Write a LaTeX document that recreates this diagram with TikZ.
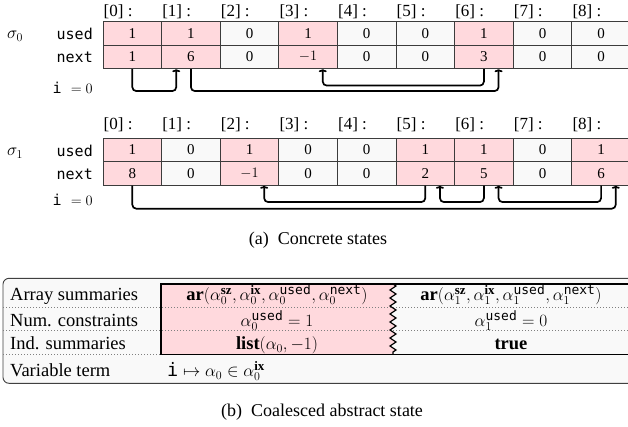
\documentclass[tikz,border=0pt]{standalone}
\usepackage{fontspec}
\setmainfont{Liberation Serif}
\setmonofont{DejaVu Sans Mono}
\usetikzlibrary{arrows.meta,decorations.pathmorphing}
\definecolor{pinkc}{RGB}{255,217,221}
\definecolor{whitec}{RGB}{249,249,249}
\definecolor{gridc}{RGB}{60,60,60}
\tikzset{
  cell/.style={draw=gridc, line width=0.8pt, minimum width=58.6pt, minimum height=23.5pt, inner sep=0pt, font=\fontsize{15}{15}\selectfont},
  hdr/.style={anchor=west, inner sep=0pt, font=\fontsize{17}{17}\selectfont},
  rowlab/.style={anchor=east, inner sep=0pt, font=\ttfamily\fontsize{15}{15}\selectfont},
  sig/.style={inner sep=0pt, font=\fontsize{17}{17}\selectfont},
  link/.style={line width=1.7pt, rounded corners=4pt, -{To[length=3pt,width=8pt]}},
  lab/.style={anchor=base west, inner sep=0pt, font=\fontsize{18.5}{18.5}\selectfont},
  val/.style={anchor=base, inner sep=0pt, font=\fontsize{18.5}{18.5}\selectfont},
  captext/.style={inner sep=0pt, font=\fontsize{18}{18}\selectfont},
  dotline/.style={draw=gray, line width=0.8pt, dash pattern=on 0.8pt off 2.2pt},
  boxline/.style={line width=1.5pt},
  wave/.style={decorate, decoration={zigzag, segment length=8pt, amplitude=3pt}},
}
\begin{document}
\begin{tikzpicture}[x=1pt,y=-1pt]
\useasboundingbox (0,0) rectangle (628,427);
% ---------- sigma 0 ----------
\foreach \i/\u/\n/\f in {0/1/1/pinkc,1/1/6/pinkc,2/0/0/whitec,3/1/{$-1$}/pinkc,4/0/0/whitec,5/0/0/whitec,6/1/3/pinkc,7/0/0/whitec,8/0/0/whitec}{
  \node[cell, fill=\f] (s0u\i) at ({132.3+58.6*\i},33.45) {\u};
  \node[cell, fill=\f] (s0n\i) at ({132.3+58.6*\i},56.95) {\n};
  \node[hdr] (s0h\i) at ({103.5+58.6*\i},12) {[\i] :};
}
\node[sig] (sig0) at (15,36) {$\sigma_0$};
\node[rowlab] (s0lu) at (93,34) {used};
\node[rowlab] (s0ln) at (93,57.5) {next};
\node[rowlab] (s0li) at (93,88) {\texttt{i} $=0$};
\draw[link] (s0n0.south) -- ++(0,22) -| ([xshift=-14.65pt]s0n1.south);
\draw[link] (s0n1.south) -- ++(0,22) -| ([xshift=14.65pt]s0n6.south);
\draw[link] (s0n6.south) -- ++(0,16.5) -| ([xshift=14.65pt]s0n3.south);
% ---------- sigma 1 ----------
\foreach \i/\u/\n/\f in {0/1/8/pinkc,1/0/0/whitec,2/1/{$-1$}/pinkc,3/0/0/whitec,4/0/0/whitec,5/1/2/pinkc,6/1/5/pinkc,7/0/0/whitec,8/1/6/pinkc}{
  \node[cell, fill=\f] (s1u\i) at ({132.3+58.6*\i},150.05) {\u};
  \node[cell, fill=\f] (s1n\i) at ({132.3+58.6*\i},173.55) {\n};
  \node[hdr] (s1h\i) at ({103.5+58.6*\i},125) {[\i] :};
}
\node[sig] (sig1) at (15,153) {$\sigma_1$};
\node[rowlab] (s1lu) at (93,151) {used};
\node[rowlab] (s1ln) at (93,174.5) {next};
\node[rowlab] (s1li) at (93,200) {\texttt{i} $=0$};
\draw[link] (s1n0.south) -- ++(0,23) -| ([xshift=14.65pt]s1n8.south);
\draw[link] (s1n5.south) -- ++(0,16.4) -| ([xshift=14.65pt]s1n2.south);
\draw[link] (s1n6.south) -- ++(0,16.4) -| ([xshift=14.65pt]s1n5.south);
\draw[link] (s1n8.south) -- ++(0,16.4) -| ([xshift=14.65pt]s1n6.south);
\node[captext] (capa) at (318,240) {(a)\enspace Concrete states};
% ---------- abstract state ----------
\draw[draw=gray!50!black, line width=0.9pt, rounded corners=6pt, fill=whitec] (3,278.3) rectangle (660,383.3);
\fill[pinkc] (161,284) -- (393,284) decorate[decoration={zigzag, segment length=8pt, amplitude=3pt}] {-- (393,354.3)} -- (161,354.3) -- cycle;
\draw[dotline] (3,307.7) -- (650,307.7);
\draw[dotline] (3,330.7) -- (650,330.7);
\draw[dotline] (3,354.3) -- (161,354.3);
\draw[boxline] (650,284) -- (161,284) -- (161,354.3) -- (650,354.3);
\draw[line width=1.2pt, wave] (393,284) -- (393,354.3);
\node[lab] (l1) at (10,300.5) {Array summaries};
\node[lab] (l2) at (10,326.5) {Num. constraints};
\node[lab] (l3) at (10,349.5) {Ind. summaries};
\node[lab] (l4) at (10,376.5) {Variable term};
\node[val] (p1) at (277,300.5) {$\mathbf{ar}(\alpha_0^{\mathbf{sz}},\alpha_0^{\mathbf{ix}},\alpha_0^{\mathtt{used}},\alpha_0^{\mathtt{next}})$};
\node[val] (p2) at (277,326.5) {$\alpha_0^{\mathtt{used}}=1$};
\node[val] (p3) at (277,349.5) {$\mathbf{list}(\alpha_0,-1)$};
\node[val] (w1) at (511,300.5) {$\mathbf{ar}(\alpha_1^{\mathbf{sz}},\alpha_1^{\mathbf{ix}},\alpha_1^{\mathtt{used}},\alpha_1^{\mathtt{next}})$};
\node[val] (w2) at (511,326.5) {$\alpha_1^{\mathtt{used}}=0$};
\node[val] (w3) at (511,349.5) {\textbf{true}};
\node[val, anchor=base west] (v1) at (167,376.5) {$\mathtt{i}\mapsto\alpha_0\in\alpha_0^{\mathbf{ix}}$};
\node[captext] (capb) at (322,411.7) {(b)\enspace Coalesced abstract state};
\end{tikzpicture}
\end{document}
